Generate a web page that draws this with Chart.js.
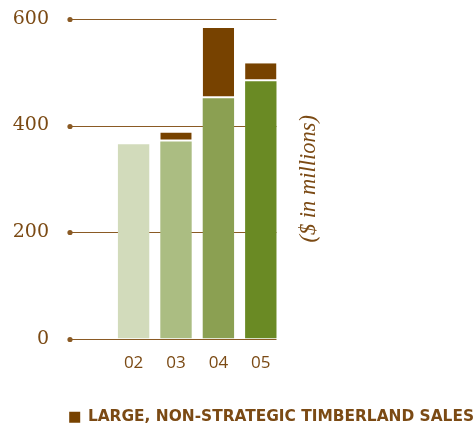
<!DOCTYPE html>
<html>
<head>
<meta charset="utf-8">
<script src="https://cdn.jsdelivr.net/npm/chart.js@4.4.1/dist/chart.umd.min.js"></script>
<style>
  html, body { margin: 0; padding: 0; background: #ffffff; }
  #wrap { width: 475px; height: 426px; }
</style>
</head>
<body>
<div id="wrap"><canvas id="c" width="475" height="426"></canvas></div>
<script>
// ---- data ----
const categories = ['', '02', '03', '04', '05'];
const coreValues = [null, 365, 370, 451, 483];
const timberlandValues = [null, null, 17, 132, 34];
const yTicks = [0, 200, 400, 600];
const legendLabel = 'LARGE, NON-STRATEGIC TIMBERLAND SALES';
const axisTitle = '($ in millions)';

const greenColors = ['#d2dbbb', '#d2dbbb', '#abbd82', '#8ba052', '#6a8a24'];
const brown = '#774200';
const textBrown = '#7b4a14';
const lineBrown = '#8a5a24';

const gridPlugin = {
  id: 'dotGrid',
  beforeDatasetsDraw(chart) {
    drawLines(chart, v => v !== 0);
  },
  afterDatasetsDraw(chart) {
    drawLines(chart, v => v === 0);
    const ctx = chart.ctx;
    const ca = chart.chartArea;
    const ys = chart.scales.y;
    ctx.save();
    ctx.translate(ca.right + 27, ys.getPixelForValue(300));
    ctx.rotate(-Math.PI / 2);
    ctx.font = 'italic 22.5px "Liberation Serif"';
    ctx.fillStyle = textBrown;
    ctx.textAlign = 'center';
    ctx.textBaseline = 'middle';
    ctx.fillText(axisTitle, 0, 0);
    ctx.restore();
  }
};

function drawLines(chart, pred) {
  const ctx = chart.ctx;
  const ca = chart.chartArea;
  const ys = chart.scales.y;
  const meta = chart.getDatasetMeta(0);
  const last = meta.data[meta.data.length - 1];
  const right = last.x + last.width / 2;
  ctx.save();
  ctx.strokeStyle = lineBrown;
  ctx.fillStyle = lineBrown;
  ctx.lineWidth = 1.2;
  yTicks.forEach(v => {
    if (!pred(v)) return;
    const y = Math.round(ys.getPixelForValue(v)) + 0.5;
    ctx.beginPath();
    ctx.moveTo(ca.left, y);
    ctx.lineTo(right, y);
    ctx.stroke();
    ctx.beginPath();
    ctx.arc(ca.left, y, 2.6, 0, Math.PI * 2);
    ctx.fill();
  });
  ctx.restore();
}

new Chart(document.getElementById('c'), {
  type: 'bar',
  data: {
    labels: categories,
    datasets: [
      {
        label: 'Core',
        data: coreValues,
        backgroundColor: greenColors,
        borderWidth: 0,
        barPercentage: 0.74,
        categoryPercentage: 1.0,
        stack: 's'
      },
      {
        label: legendLabel,
        data: timberlandValues,
        backgroundColor: brown,
        borderColor: '#ffffff',
        borderWidth: { top: 0, left: 0, right: 0, bottom: 2 },
        borderSkipped: false,
        barPercentage: 0.74,
        categoryPercentage: 1.0,
        stack: 's'
      }
    ]
  },
  options: {
    responsive: false,
    animation: false,
    devicePixelRatio: 1,
    layout: { padding: { top: 19, right: -3, left: 0, bottom: -9 } },
    plugins: {
      tooltip: { enabled: false },
      legend: {
        position: 'bottom',
        align: 'end',
        labels: {
          boxWidth: 11,
          boxHeight: 11,
          padding: 4,
          color: textBrown,
          font: { family: '"DejaVu Sans"', size: 15.4, weight: '600' },
          generateLabels() {
            return [{ text: legendLabel, fillStyle: brown, strokeStyle: brown, fontColor: textBrown, lineWidth: 0, datasetIndex: 1 }];
          }
        }
      }
    },
    scales: {
      x: {
        stacked: true,
        afterFit(scale) { scale.height = 67; },
        grid: { display: false },
        border: { display: false },
        ticks: { color: textBrown, font: { family: '"Open Sans"', size: 17 }, padding: 6 }
      },
      y: {
        stacked: true,
        min: 0,
        max: 600,
        afterBuildTicks(scale) { scale.ticks = yTicks.map(v => ({ value: v })); },
        afterFit(scale) { scale.width = 70; scale.paddingTop = 0; scale.paddingBottom = 0; },
        grid: { display: false },
        border: { display: false },
        ticks: { color: textBrown, font: { family: '"DejaVu Serif"', size: 19, lineHeight: 1.0 }, padding: 13 }
      },
      yPad: {
        position: 'right',
        display: true,
        afterFit(scale) { scale.width = 196; scale.paddingTop = 0; scale.paddingBottom = 0; },
        grid: { display: false },
        border: { display: false },
        ticks: { display: false }
      }
    }
  },
  plugins: [gridPlugin]
});
</script>
</body>
</html>
